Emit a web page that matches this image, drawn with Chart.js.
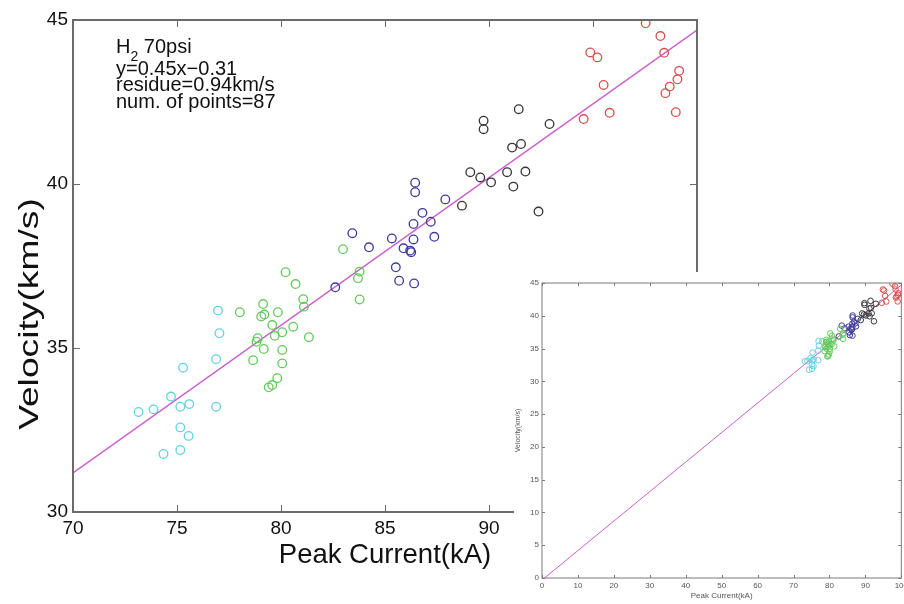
<!DOCTYPE html>
<html lang="en">
<head>
    <meta charset="UTF-8">
    <title>Peak Current vs Velocity</title>
    <script src="https://cdn.jsdelivr.net/npm/chart.js"></script>
    <style>
        html, body { margin: 0; padding: 0; background: #fff; }
        #wrap { position: relative; width: 904px; height: 604px; overflow: hidden; }
        #mainChart { position: absolute; left: 0; top: 0; }
        #insetBox { position: absolute; left: 514px; top: 272px; width: 390px; height: 332px; background: #fff; overflow: hidden; }
    </style>
</head>
<body>
<div id="wrap">
    <canvas id="mainChart" width="904" height="604"></canvas>
    <div id="insetBox"><canvas id="insetChart" width="397" height="332"></canvas></div>
</div>
<script>
// points, one group per colour (x = peak current kA, y = velocity km/s)
const cyanX = [76.97, 77.04, 76.88, 75.29, 74.71, 73.87, 73.15, 75.16, 75.59, 76.88, 75.16, 75.56, 75.16, 74.35];
const cyanY = [36.14, 35.45, 34.66, 34.40, 33.52, 33.13, 33.05, 33.21, 33.29, 33.21, 32.58, 32.32, 31.89, 31.77];

const greenX = [80.22, 80.70, 81.07, 81.10, 79.14, 78.02, 79.05, 79.20, 79.85, 79.58, 80.59, 80.06, 79.70, 81.34,
                78.88, 78.82, 79.17, 80.06, 78.66, 80.06, 79.82, 79.58, 79.41, 82.98, 83.78, 83.70, 83.78];
const greenY = [37.31, 36.95, 36.49, 36.26, 36.34, 36.09, 35.96, 36.02, 36.09, 35.70, 35.65, 35.48, 35.37, 35.33,
                35.30, 35.19, 34.97, 34.94, 34.63, 34.53, 34.08, 33.87, 33.80, 38.01, 37.33, 37.13, 36.48];

const blueX = [82.61, 83.43, 84.23, 85.33, 85.89, 86.21, 86.26, 86.37, 86.37, 86.80, 87.20, 87.37, 86.45, 86.45,
               85.52, 85.68, 86.40, 87.90];
const blueY = [36.85, 38.50, 38.07, 38.34, 38.04, 37.97, 37.92, 38.31, 38.78, 39.12, 38.85, 38.39, 40.04, 39.75,
               37.46, 37.05, 36.97, 39.53];

const blackX = [88.70, 89.10, 89.58, 90.10, 90.87, 91.75, 91.17, 92.38, 91.11, 91.54, 89.74, 89.74, 91.43, 92.91];
const blackY = [39.34, 40.36, 40.20, 40.05, 40.36, 40.38, 39.92, 39.16, 41.11, 41.22, 41.93, 41.67, 42.28, 41.83];

const redX = [97.53, 98.24, 98.42, 94.87, 95.21, 95.51, 94.55, 95.80, 99.14, 99.06, 98.69, 98.48, 98.98];
const redY = [44.90, 44.51, 44.00, 44.01, 43.86, 43.02, 41.98, 42.17, 43.45, 43.19, 42.97, 42.77, 42.19];

// fitted line, end points
const fitX = [0.7, 70, 100];
const fitY = [0, 31.19, 44.69];

const mainXTicks = [70, 75, 80, 85, 90, 95, 100];
const mainYTicks = [30, 35, 40, 45];
const insetXTicks = [0, 10, 20, 30, 40, 50, 60, 70, 80, 90, 100];
const insetYTicks = [0, 5, 10, 15, 20, 25, 30, 35, 40, 45];

const noteLines = ['70psi', 'y=0.45x\u22120.31', 'residue=0.94km/s', 'num. of points=87'];
const yTitle = 'Velocity(km/s)';

const FONT = "'Liberation Sans', Arial, Helvetica, sans-serif";

function pts(xs, ys) {
    return xs.map((x, i) => ({ x: x, y: ys[i] }));
}

function makeDatasets(r, bw, lw) {
    const groups = [
        [cyanX, cyanY, '#62d2e2'],
        [greenX, greenY, '#63c95c'],
        [blueX, blueY, '#3d3a9c'],
        [blackX, blackY, '#353535'],
        [redX, redY, '#d8504c']
    ];
    const ds = groups.map(g => ({
        type: 'scatter',
        data: pts(g[0], g[1]),
        borderColor: g[2],
        backgroundColor: 'rgba(0,0,0,0)',
        pointRadius: r,
        pointBorderWidth: bw,
        pointHoverRadius: r
    }));
    ds.push({
        type: 'line',
        data: pts(fitX, fitY),
        borderColor: '#cc5fcc',
        borderWidth: lw,
        pointRadius: 0,
        fill: false
    });
    return ds;
}

// MATLAB style frame with inward ticks
const boxTicks = {
    id: 'boxTicks',
    afterDatasetsDraw(chart, args, opts) {
        const { ctx, chartArea: a, scales } = chart;
        const L = opts.len;
        ctx.save();
        ctx.strokeStyle = opts.color;
        ctx.lineWidth = opts.width;
        ctx.strokeRect(a.left, a.top, a.right - a.left, a.bottom - a.top);
        ctx.lineWidth = 1;
        ctx.beginPath();
        scales.x.ticks.forEach(t => {
            const px = Math.round(scales.x.getPixelForValue(t.value)) + 0.5;
            ctx.moveTo(px, a.bottom); ctx.lineTo(px, a.bottom - L);
            ctx.moveTo(px, a.top); ctx.lineTo(px, a.top + L);
        });
        scales.y.ticks.forEach(t => {
            const py = Math.round(scales.y.getPixelForValue(t.value)) + 0.5;
            ctx.moveTo(a.left, py); ctx.lineTo(a.left + L, py);
            ctx.moveTo(a.right, py); ctx.lineTo(a.right - L, py);
        });
        ctx.stroke();
        ctx.restore();
    }
};

// text block in the upper left corner and the (stretched) y axis title
const note = {
    id: 'note',
    afterDraw(chart) {
        const ctx = chart.ctx;
        ctx.save();
        ctx.fillStyle = '#111';
        ctx.textBaseline = 'alphabetic';
        ctx.font = '20px ' + FONT;
        ctx.fillText('H', 116, 53);
        const hw = ctx.measureText('H').width;
        ctx.font = '14px ' + FONT;
        ctx.fillText('2', 116 + hw, 61);
        const sw = ctx.measureText('2').width;
        ctx.font = '20px ' + FONT;
        ctx.fillText(' ' + noteLines[0], 116 + hw + sw, 53);
        ctx.fillText(noteLines[1], 116, 75);
        ctx.fillText(noteLines[2], 116, 91);
        ctx.fillText(noteLines[3], 116, 108);

        ctx.translate(30, 314);
        ctx.rotate(-Math.PI / 2);
        ctx.scale(1.33, 1);
        ctx.textAlign = 'center';
        ctx.textBaseline = 'middle';
        ctx.font = '28px ' + FONT;
        ctx.fillText(yTitle, 0, 0);
        ctx.restore();
    }
};

new Chart(document.getElementById('mainChart').getContext('2d'), {
    data: { datasets: makeDatasets(4.3, 1.3, 1.5) },
    plugins: [boxTicks, note],
    options: {
        responsive: false,
        animation: false,
        layout: { padding: { top: 20, right: 207, left: 0, bottom: 0 } },
        plugins: {
            legend: { display: false },
            tooltip: { enabled: false },
            boxTicks: { len: 7, color: '#6a6a6a', width: 2 }
        },
        scales: {
            x: {
                type: 'linear', min: 70, max: 100,
                afterBuildTicks: s => { s.ticks = mainXTicks.map(v => ({ value: v })); },
                afterFit: s => { s.height = 92; },
                grid: { display: false, drawTicks: false },
                border: { display: false },
                ticks: { padding: 5, color: '#111', font: { family: FONT, size: 19 } },
                title: { display: true, text: 'Peak Current(kA)', color: '#111',
                         font: { family: FONT, size: 27.5 }, padding: { top: 0, bottom: 32 } }
            },
            y: {
                type: 'linear', min: 30, max: 45,
                afterBuildTicks: s => { s.ticks = mainYTicks.map(v => ({ value: v })); },
                afterFit: s => { s.width = 73; },
                grid: { display: false, drawTicks: false },
                border: { display: false },
                ticks: { padding: 5, color: '#111', font: { family: FONT, size: 19 } },
                title: { display: false }
            }
        }
    }
});

new Chart(document.getElementById('insetChart').getContext('2d'), {
    data: { datasets: makeDatasets(2.8, 1, 1) },
    plugins: [boxTicks],
    options: {
        responsive: false,
        animation: false,
        layout: { padding: { top: 11, right: 3, left: 0, bottom: 0 } },
        plugins: {
            legend: { display: false },
            tooltip: { enabled: false },
            boxTicks: { len: 3, color: '#7a7a7a', width: 1 }
        },
        scales: {
            x: {
                type: 'linear', min: 0, max: 100,
                afterBuildTicks: s => { s.ticks = insetXTicks.map(v => ({ value: v })); },
                afterFit: s => { s.height = 26; },
                grid: { display: false, drawTicks: false },
                border: { display: false },
                ticks: { padding: 3, color: '#555', font: { family: FONT, size: 8 } },
                title: { display: true, text: 'Peak Current(kA)', color: '#555',
                         font: { family: FONT, size: 8 }, padding: { top: 0, bottom: 3 } }
            },
            y: {
                type: 'linear', min: 0, max: 45,
                afterBuildTicks: s => { s.ticks = insetYTicks.map(v => ({ value: v })); },
                afterFit: s => { s.width = 28; },
                grid: { display: false, drawTicks: false },
                border: { display: false },
                ticks: { padding: 3, color: '#555', font: { family: FONT, size: 8 } },
                title: { display: true, text: 'Velocity(km/s)', color: '#555',
                         font: { family: FONT, size: 7 }, padding: { top: 0, bottom: 1 } }
            }
        }
    }
});
</script>
</body>
</html>
